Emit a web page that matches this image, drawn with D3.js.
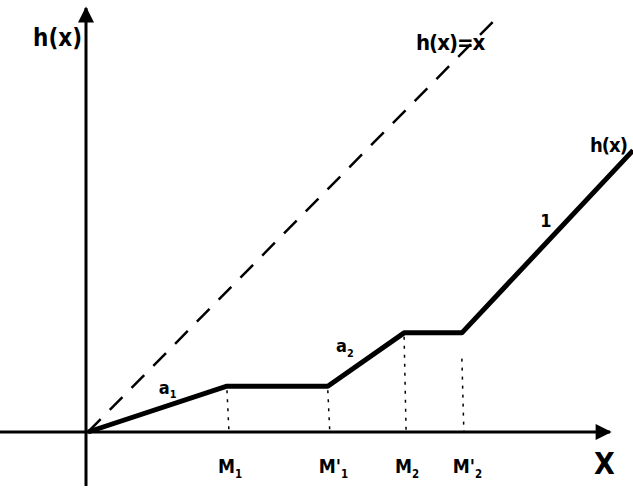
<!DOCTYPE html>
<html>
<head>
<meta charset="utf-8">
<script src="https://cdn.jsdelivr.net/npm/d3@7"></script>
<style>
  body { margin: 0; background: #fff; }
  svg { display: block; }
  text { font-family: "DejaVu Sans Condensed", "DejaVu Sans", sans-serif; font-weight: bold; fill: #000; }
</style>
</head>
<body>
<svg width="633" height="488"></svg>
<script>
// piecewise h(x): breakpoints in abstract units
const hX = [0, 25.5, 44, 58, 68.6, 100];
const hY = [0, 8.4, 8.4, 18.2, 18.2, 51.7];
const ticks = ['M_1', "M'_1", 'M_2', "M'_2"];
const tickX = [25.5, 44, 58, 68.6];
const tickTop = [8.4, 8.4, 18.2, 14.2];
const slopeLabels = ['a_1', 'a_2', '1'];
const slopeAt = [[13, 7.0], [45.5, 14.6], [83, 37.6]];

const svg = d3.select('svg');

const x = d3.scaleLinear().domain([0, 100]).range([88, 633]);
const y = d3.scaleLinear().domain([0, 79.3]).range([432, 0]);

const defs = svg.append('defs');
defs.append('marker')
  .attr('id', 'arrowhead')
  .attr('viewBox', '0 -5 10 10')
  .attr('refX', 9)
  .attr('refY', 0)
  .attr('orient', 'auto')
  .attr('markerUnits', 'userSpaceOnUse')
  .attr('markerWidth', 20)
  .attr('markerHeight', 16)
  .append('path')
  .attr('d', 'M0,-5 L10,0 L0,5 Z')
  .attr('fill', '#000');

// axes
svg.append('line')
  .attr('x1', 0).attr('y1', y(0))
  .attr('x2', 610).attr('y2', y(0))
  .attr('stroke', '#000').attr('stroke-width', 3)
  .attr('marker-end', 'url(#arrowhead)');

svg.append('line')
  .attr('x1', x(0) - 2).attr('y1', 486)
  .attr('x2', x(0) - 2).attr('y2', 8)
  .attr('stroke', '#000').attr('stroke-width', 3)
  .attr('marker-end', 'url(#arrowhead)');

// h(x) = x, dashed
svg.append('line')
  .attr('x1', x(0)).attr('y1', y(0))
  .attr('x2', x(74.3)).attr('y2', y(75.3))
  .attr('stroke', '#000').attr('stroke-width', 2.5)
  .attr('stroke-dasharray', '18,13');

// dotted drop lines
svg.selectAll('.drop')
  .data(tickX)
  .join('line')
  .attr('class', 'drop')
  .attr('x1', d => x(d)).attr('x2', d => x(d) + 2)
  .attr('y1', (d, i) => y(tickTop[i]) + 4)
  .attr('y2', y(0))
  .attr('stroke', '#000').attr('stroke-width', 1.5)
  .attr('stroke-dasharray', '3,6');

// h(x)
const line = d3.line().x(d => x(d[0])).y(d => y(d[1]));
svg.append('path')
  .datum(d3.zip(hX, hY))
  .attr('d', line)
  .attr('fill', 'none')
  .attr('stroke', '#000')
  .attr('stroke-width', 5)
  .attr('stroke-linejoin', 'round');

// labels with subscripts / primes
function label(g, str, size) {
  const parts = str.split('_');
  const t = g.append('text').attr('font-size', size);
  t.append('tspan').text(parts[0]);
  if (parts[1]) {
    t.append('tspan').attr('font-size', size * 0.6).attr('dy', size * 0.25).text(parts[1]);
  }
  return t;
}

ticks.forEach((s, i) => {
  label(svg, s, 19)
    .attr('x', x(tickX[i]) - 9)
    .attr('y', 473);
});

slopeLabels.forEach((s, i) => {
  label(svg, s, 18)
    .attr('x', x(slopeAt[i][0]))
    .attr('y', y(slopeAt[i][1]));
});

svg.append('text').attr('font-size', 24).attr('x', 33).attr('y', 46).text('h(x)');
svg.append('text').attr('font-size', 22).attr('x', 416).attr('y', 50)
  .attr('letter-spacing', -1).text('h(x)=x');
svg.append('text').attr('font-size', 20).attr('x', 590).attr('y', 152)
  .attr('letter-spacing', -1).text('h(x)');
svg.append('text').attr('font-size', 30).attr('font-weight', 'normal')
  .attr('x', 594).attr('y', 474).text('X');
</script>
</body>
</html>
